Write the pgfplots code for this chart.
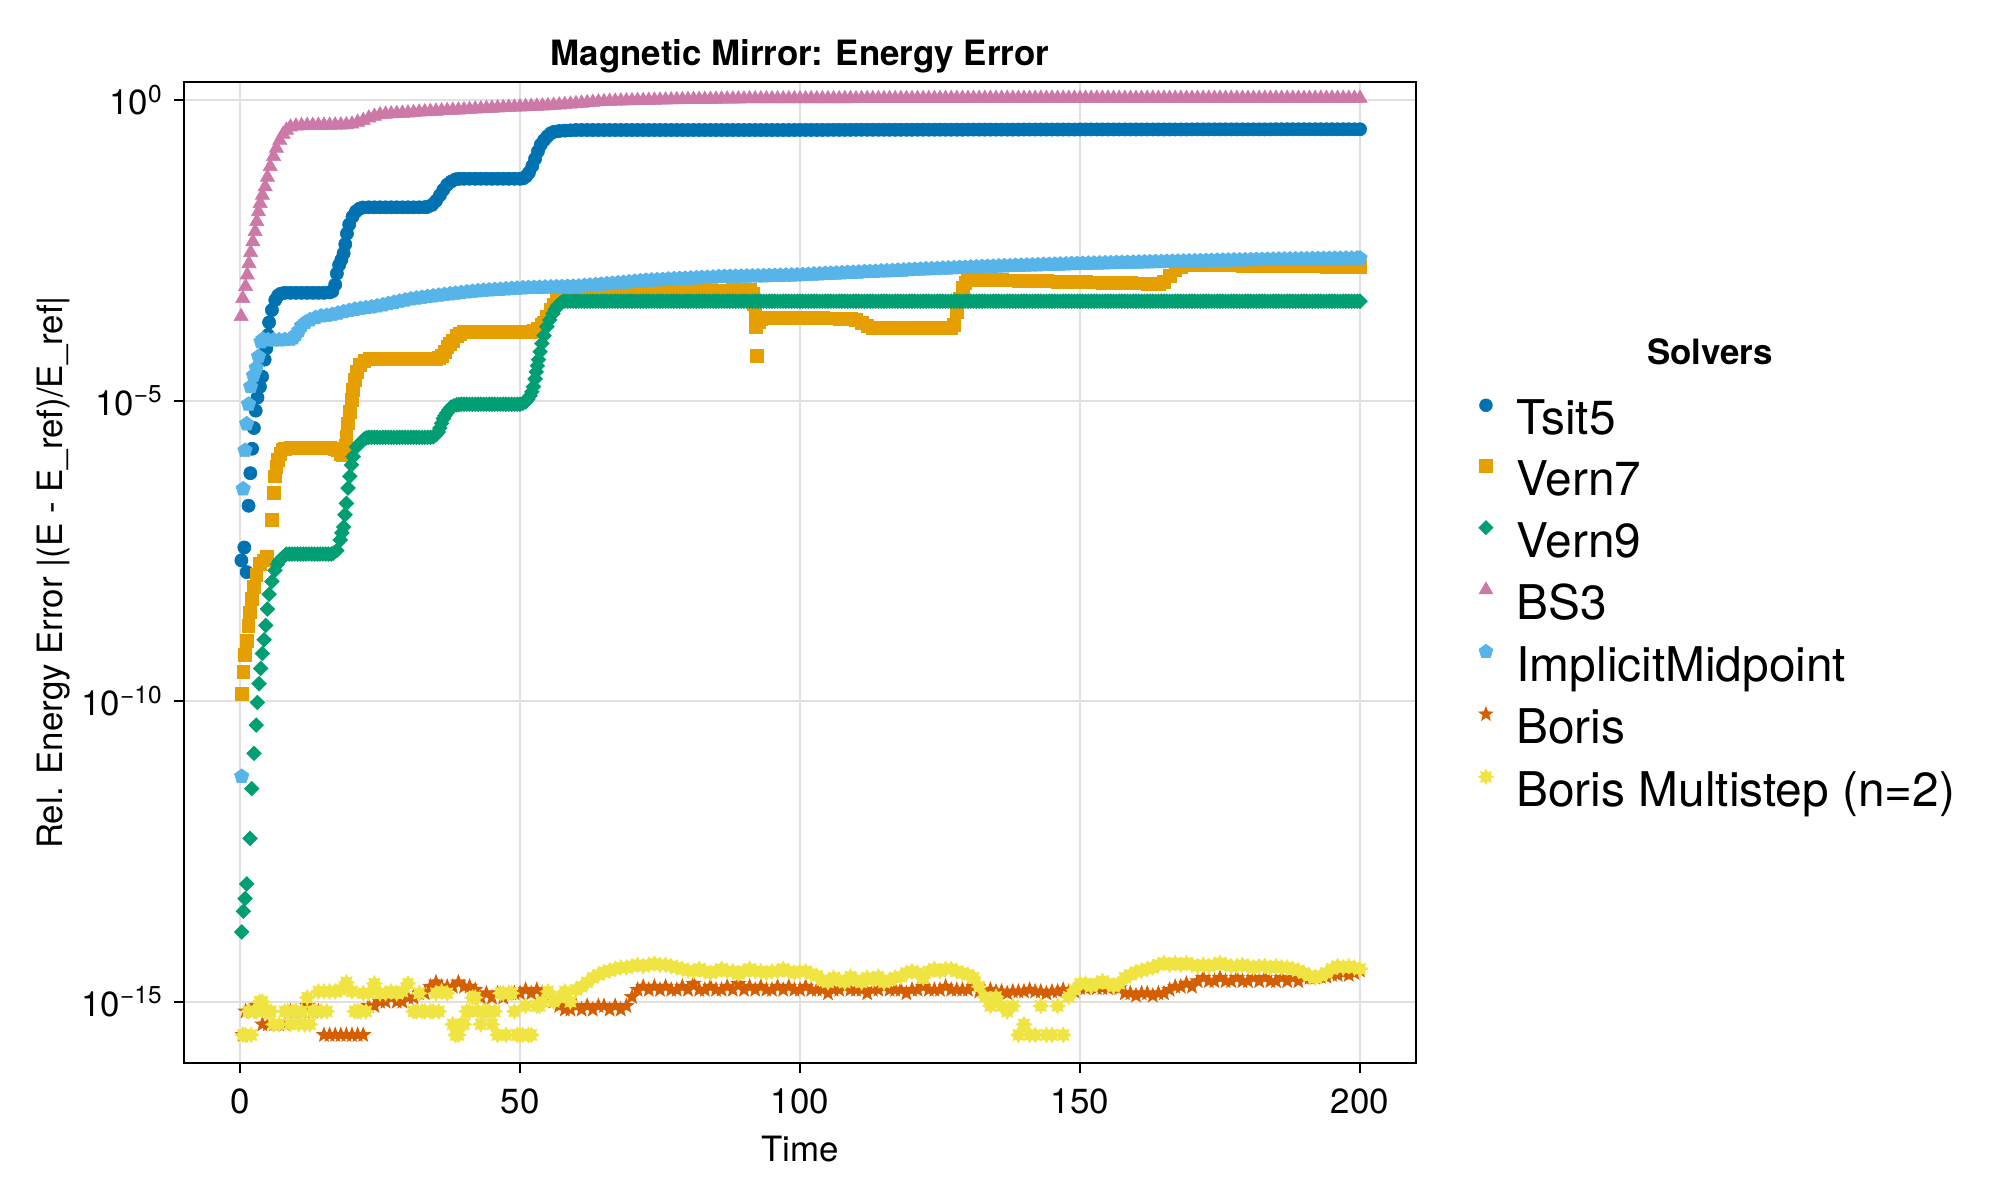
\documentclass[border=0pt]{standalone}
\usepackage{fontspec}
\setmainfont{TeX Gyre Heros}
\usepackage{pgfplots}
\pgfplotsset{compat=1.18}
\usetikzlibrary{plotmarks}

\definecolor{cTsit}{RGB}{0,114,178}
\definecolor{cVernS}{RGB}{230,159,0}
\definecolor{cVernN}{RGB}{0,158,115}
\definecolor{cBS}{RGB}{204,121,167}
\definecolor{cIM}{RGB}{86,180,233}
\definecolor{cBoris}{RGB}{213,94,0}
\definecolor{cBMS}{RGB}{240,228,66}

% Makie-like filled marks
\pgfdeclareplotmark{mdiamond}{%
  \pgfpathmoveto{\pgfqpoint{0pt}{\pgfplotmarksize}}%
  \pgfpathlineto{\pgfqpoint{\pgfplotmarksize}{0pt}}%
  \pgfpathlineto{\pgfqpoint{0pt}{-\pgfplotmarksize}}%
  \pgfpathlineto{\pgfqpoint{-\pgfplotmarksize}{0pt}}%
  \pgfpathclose\pgfusepathqfill}
\pgfdeclareplotmark{mstarv}{%
  \pgfpathmoveto{\pgfqpointpolar{90}{\pgfplotmarksize}}%
  \pgfpathlineto{\pgfpointscale{0.42}{\pgfqpointpolar{126}{\pgfplotmarksize}}}%
  \pgfpathlineto{\pgfqpointpolar{162}{\pgfplotmarksize}}%
  \pgfpathlineto{\pgfpointscale{0.42}{\pgfqpointpolar{198}{\pgfplotmarksize}}}%
  \pgfpathlineto{\pgfqpointpolar{234}{\pgfplotmarksize}}%
  \pgfpathlineto{\pgfpointscale{0.42}{\pgfqpointpolar{270}{\pgfplotmarksize}}}%
  \pgfpathlineto{\pgfqpointpolar{306}{\pgfplotmarksize}}%
  \pgfpathlineto{\pgfpointscale{0.42}{\pgfqpointpolar{342}{\pgfplotmarksize}}}%
  \pgfpathlineto{\pgfqpointpolar{18}{\pgfplotmarksize}}%
  \pgfpathlineto{\pgfpointscale{0.42}{\pgfqpointpolar{54}{\pgfplotmarksize}}}%
  \pgfpathclose\pgfusepathqfill}
\pgfdeclareplotmark{mstarviii}{%
  \pgfpathmoveto{\pgfqpointpolar{90}{\pgfplotmarksize}}%
  \pgfpathlineto{\pgfpointscale{0.62}{\pgfqpointpolar{112.5}{\pgfplotmarksize}}}%
  \pgfpathlineto{\pgfqpointpolar{135}{\pgfplotmarksize}}%
  \pgfpathlineto{\pgfpointscale{0.62}{\pgfqpointpolar{157.5}{\pgfplotmarksize}}}%
  \pgfpathlineto{\pgfqpointpolar{180}{\pgfplotmarksize}}%
  \pgfpathlineto{\pgfpointscale{0.62}{\pgfqpointpolar{202.5}{\pgfplotmarksize}}}%
  \pgfpathlineto{\pgfqpointpolar{225}{\pgfplotmarksize}}%
  \pgfpathlineto{\pgfpointscale{0.62}{\pgfqpointpolar{247.5}{\pgfplotmarksize}}}%
  \pgfpathlineto{\pgfqpointpolar{270}{\pgfplotmarksize}}%
  \pgfpathlineto{\pgfpointscale{0.62}{\pgfqpointpolar{292.5}{\pgfplotmarksize}}}%
  \pgfpathlineto{\pgfqpointpolar{315}{\pgfplotmarksize}}%
  \pgfpathlineto{\pgfpointscale{0.62}{\pgfqpointpolar{337.5}{\pgfplotmarksize}}}%
  \pgfpathlineto{\pgfqpointpolar{0}{\pgfplotmarksize}}%
  \pgfpathlineto{\pgfpointscale{0.62}{\pgfqpointpolar{22.5}{\pgfplotmarksize}}}%
  \pgfpathlineto{\pgfqpointpolar{45}{\pgfplotmarksize}}%
  \pgfpathlineto{\pgfpointscale{0.62}{\pgfqpointpolar{67.5}{\pgfplotmarksize}}}%
  \pgfpathclose\pgfusepathqfill}

\pgfplotsset{
  mk/.style={only marks, line width=0.3bp,
    legend image code/.code={\draw[##1, /tikz/every mark/.append style={scale=0.97}] plot coordinates {(0bp,8.6bp)};}},
}
\newcommand{\lblfont}{\fontsize{17.5}{21}\selectfont}

\begin{document}
\begin{tikzpicture}
\useasboundingbox (-92bp,-68.5bp) rectangle (908bp,531.5bp);
\begin{axis}[
  name=ax, at={(0,0)}, anchor=south west,
  scale only axis, width=616bp, height=490.5bp,
  xmin=-10, xmax=210,
  ymode=log, ymin=9.55e-17, ymax=1.995,
  xtick={0,50,100,150,200},
  ytick={1e-15,1e-10,1e-5,1},
  yticklabels={10\textsuperscript{−15},10\textsuperscript{−10},10\textsuperscript{−5},10\textsuperscript{0}},
  xminorticks=false, yminorticks=false,
  grid=major, major grid style={draw=black!12, line width=1bp},
  axis line style={line width=1bp},
  every tick/.style={black, line width=1bp},
  tick align=outside, major tick length=5bp, tick pos=left,
  tick label style={font=\lblfont},
  /pgf/number format/assume math mode=true,
  xticklabel style={inner sep=0pt, anchor=north, yshift=-7.7bp},
  yticklabel style={inner sep=0pt, anchor=east, xshift=-5.5bp},
  every axis title shift=0pt,
  title={Magnetic Mirror: Energy Error},
  title style={at={(0.5,1)}, anchor=center, yshift=12.8bp, inner sep=0pt, font=\bfseries\lblfont},
  xlabel={Time},
  xlabel style={at={(0.5,0)}, anchor=center, yshift=-43.1bp, inner sep=0pt, font=\lblfont},
  ylabel={Rel. Energy Error |(E - E\_ref)/E\_ref|},
  ylabel style={at={(-0.1063,0.5)}, anchor=center, inner sep=0pt, font=\lblfont},
  legend style={at={(1.050,0.677)}, anchor=north west, draw=none, fill=none,
    inner sep=0pt, outer sep=0pt, row sep=7.3bp, column sep=11.1bp,
    font=\fontsize{24}{29}\selectfont,
    nodes={inner sep=0pt, text height=17.5bp, text depth=5bp}},
  legend cell align=left,
]
% Tsit5
\addplot[mk, color=cTsit, mark=*, mark size=3.3bp] coordinates {
(0.25,2.2e-8)(0.77,3.6e-8)(1.2,1.4e-8)(1.53,1.78e-7)(1.85,6.2e-7)(2.16,1.58e-6)(2.48,3.5e-6)(2.8,6.8e-6)(3.12,1.12e-5)(3.57,1.7e-5)
(3.95,2.5e-5)(4.4,4.8e-5)(4.7,7.4e-5)(5.0,1.23e-4)(5.2,2.0e-4)(5.7,3.2e-4)(6.3,4.7e-4)(6.8,5.6e-4)(7.3,6.0e-4)(8,6.2e-4)
(9,6.2e-4)(10,6.2e-4)(11,6.2e-4)(12,6.2e-4)(13,6.2e-4)(14,6.2e-4)(15,6.2e-4)(16,6.3e-4)(16.5,6.6e-4)(17,8.5e-4)
(17.3,1.3e-3)(17.7,1.8e-3)(18.1,2.2e-3)(18.5,2.8e-3)(18.8,4.0e-3)(19.1,6.0e-3)(19.5,8.5e-3)(20.1,1.15e-2)(20.7,1.4e-2)(21.3,1.55e-2)
(21.9,1.63e-2)(23,1.64e-2)(24,1.64e-2)(25,1.64e-2)(26,1.64e-2)(27,1.64e-2)(28,1.64e-2)(29,1.64e-2)(30,1.64e-2)(31,1.64e-2)
(32,1.64e-2)(33,1.65e-2)(33.5,1.67e-2)(34.3,1.8e-2)(35,2.1e-2)(35.7,2.6e-2)(36.3,3.2e-2)(37,3.9e-2)(37.7,4.4e-2)(38.5,4.8e-2)
(39.2,4.9e-2)(40,4.9e-2)(41,4.9e-2)(42,4.9e-2)(43,4.9e-2)(44,4.9e-2)(45,4.9e-2)(46,4.9e-2)(47,4.9e-2)(48,4.9e-2)
(49,4.9e-2)(50,4.9e-2)(50.6,5.0e-2)(51.1,5.4e-2)(51.6,6.2e-2)(52.2,8.0e-2)(52.7,0.105)(53.2,0.14)(53.7,0.18)(54.3,0.215)
(54.9,0.25)(55.5,0.28)(56.1,0.296)(57,0.305)(58,0.310)(59,0.313)
(60,0.317)(61,0.317)(62,0.317)(63,0.317)(64,0.317)(65,0.317)(66,0.317)(67,0.317)(68,0.317)(69,0.317)
(70,0.317)(71,0.317)(72,0.317)(73,0.317)(74,0.317)(75,0.317)(76,0.317)(77,0.317)(78,0.317)(79,0.317)
(80,0.317)(81,0.317)(82,0.317)(83,0.317)(84,0.317)(85,0.317)(86,0.317)(87,0.317)(88,0.317)(89,0.317)
(90,0.317)(91,0.317)(92,0.317)(93,0.317)(94,0.317)(95,0.317)(96,0.317)(97,0.317)(98,0.317)(99,0.317)
(100,0.318)(101,0.318)(102,0.318)(103,0.318)(104,0.318)(105,0.319)(106,0.319)(107,0.319)(108,0.319)(109,0.319)
(110,0.320)(111,0.320)(112,0.320)(113,0.320)(114,0.320)(115,0.320)(116,0.320)(117,0.320)(118,0.320)(119,0.320)
(120,0.320)(121,0.321)(122,0.321)(123,0.321)(124,0.321)(125,0.321)(126,0.321)(127,0.321)(128,0.321)(129,0.321)
(130,0.322)(131,0.322)(132,0.322)(133,0.322)(134,0.322)(135,0.322)(136,0.322)(137,0.322)(138,0.322)(139,0.322)
(140,0.323)(141,0.323)(142,0.323)(143,0.323)(144,0.323)(145,0.323)(146,0.323)(147,0.323)(148,0.323)(149,0.323)
(150,0.324)(151,0.324)(152,0.324)(153,0.324)(154,0.324)(155,0.324)(156,0.324)(157,0.324)(158,0.324)(159,0.324)
(160,0.324)(161,0.324)(162,0.324)(163,0.324)(164,0.324)(165,0.324)(166,0.324)(167,0.324)(168,0.324)(169,0.324)
(170,0.325)(171,0.325)(172,0.325)(173,0.325)(174,0.325)(175,0.325)(176,0.325)(177,0.325)(178,0.325)(179,0.325)
(180,0.325)(181,0.325)(182,0.325)(183,0.325)(184,0.325)(185,0.326)(186,0.326)(187,0.326)(188,0.326)(189,0.326)
(190,0.326)(191,0.326)(192,0.326)(193,0.326)(194,0.326)(195,0.326)(196,0.326)(197,0.326)(198,0.326)(199,0.326)
(200,0.326)
};
% Vern7
\addplot[mk, color=cVernS, mark=square*, mark size=3.2bp] coordinates {
(0.3,1.32e-10)(0.6,3.1e-10)(0.9,5.9e-10)(1.2,1.02e-9)(1.5,1.78e-9)(1.8,3.0e-9)(2.1,5.0e-9)(2.4,7.9e-9)(2.9,1.26e-8)(3.6,1.95e-8)
(4.2,2.2e-8)(4.8,2.5e-8)(5.7,1.05e-7)(6.0,2.9e-7)(6.25,5.5e-7)(6.5,7.9e-7)(6.8,1.02e-6)(7.2,1.3e-6)(7.7,1.55e-6)(8,1.6e-6)
(9,1.62e-6)(10,1.62e-6)(11,1.62e-6)(12,1.62e-6)(13,1.62e-6)(14,1.62e-6)(15,1.62e-6)(16,1.62e-6)(17,1.6e-6)(17.5,1.5e-6)
(18,1.3e-6)(18.4,1.26e-6)(18.8,1.8e-6)(19.0,2.5e-6)(19.3,4.2e-6)(19.6,6.5e-6)(19.9,1.02e-5)(20.2,1.5e-5)(20.5,2.2e-5)(20.9,3.0e-5)
(21.4,3.9e-5)(22.2,4.6e-5)(23.2,4.9e-5)(24,4.9e-5)(25,4.9e-5)(26,4.9e-5)(27,4.9e-5)(28,4.9e-5)(29,4.9e-5)(30,4.9e-5)
(31,4.9e-5)(32,4.9e-5)(33,4.9e-5)(34,4.9e-5)(35,4.9e-5)(35.5,5.1e-5)(36,5.6e-5)(36.5,6.5e-5)(37,7.8e-5)(37.5,8.9e-5)
(38,1.0e-4)(38.7,1.2e-4)(39.3,1.3e-4)(40,1.38e-4)(41,1.38e-4)(42,1.38e-4)(43,1.38e-4)(44,1.38e-4)(45,1.38e-4)(46,1.38e-4)
(47,1.38e-4)(48,1.38e-4)(49,1.38e-4)(50,1.38e-4)(51,1.38e-4)(52,1.38e-4)(52.5,1.45e-4)(53.2,1.6e-4)(53.8,1.8e-4)(54.2,1.95e-4)
(54.8,2.5e-4)(55.4,3.2e-4)(56,4.0e-4)(56.5,4.7e-4)(57.3,5.4e-4)(58.3,5.75e-4)(59,5.9e-4)(60,6.1e-4)(61,6.2e-4)(62,6.3e-4)
(63,6.4e-4)(64,6.4e-4)(65,6.4e-4)(66,6.45e-4)(67,6.45e-4)(68,6.45e-4)(69,6.5e-4)(70,6.5e-4)(71,6.5e-4)(72,6.5e-4)
(73,6.55e-4)(74,6.55e-4)(75,6.55e-4)(76,6.6e-4)(77,6.6e-4)(78,6.6e-4)(79,6.6e-4)(80,6.6e-4)(81,6.7e-4)(82,6.7e-4)
(83,6.7e-4)(84,6.75e-4)(85,6.8e-4)(86,6.8e-4)(87,6.85e-4)(88,6.9e-4)(89,6.9e-4)(90,6.9e-4)(91,6.9e-4)(91.5,6.0e-4)
(91.8,4.0e-4)(92.0,2.8e-4)(92.1,1.7e-4)(92.3,5.5e-5)(92.6,2.0e-4)(93.0,2.3e-4)(93.5,2.4e-4)(94,2.4e-4)(95,2.4e-4)(96,2.4e-4)
(97,2.4e-4)(98,2.4e-4)(99,2.38e-4)(100,2.38e-4)(101,2.36e-4)(102,2.36e-4)(103,2.35e-4)(104,2.35e-4)(105,2.34e-4)(106,2.33e-4)
(107,2.32e-4)(108,2.31e-4)(109,2.3e-4)(110,2.2e-4)(111,1.95e-4)(112,1.75e-4)(113,1.64e-4)(114,1.62e-4)(115,1.62e-4)(116,1.62e-4)
(117,1.62e-4)(118,1.62e-4)(119,1.62e-4)(120,1.62e-4)(121,1.62e-4)(122,1.62e-4)(123,1.62e-4)(124,1.62e-4)(125,1.62e-4)(126,1.62e-4)
(127,1.64e-4)(127.5,1.8e-4)(128,3.0e-4)(128.5,5.0e-4)(129,7.5e-4)(129.5,9.2e-4)(130,1.0e-3)(131,1.02e-3)(132,1.02e-3)(133,1.02e-3)
(134,1.01e-3)(135,1.01e-3)(136,1.01e-3)(137,1.0e-3)(138,1.0e-3)(139,9.95e-4)(140,9.9e-4)(141,9.85e-4)(142,9.8e-4)(143,9.75e-4)
(144,9.7e-4)(145,9.65e-4)(146,9.6e-4)(147,9.55e-4)(148,9.5e-4)(149,9.45e-4)(150,9.4e-4)(151,9.35e-4)(152,9.3e-4)(153,9.25e-4)
(154,9.2e-4)(155,9.15e-4)(156,9.1e-4)(157,9.05e-4)(158,9.0e-4)(159,9.0e-4)(160,8.95e-4)(161,8.95e-4)(162,8.9e-4)(163,8.9e-4)
(164,8.9e-4)(165,9.5e-4)(166,1.2e-3)(167,1.5e-3)(168,1.7e-3)(169,1.8e-3)(170,1.8e-3)(171,1.8e-3)(172,1.8e-3)(173,1.79e-3)
(174,1.79e-3)(175,1.79e-3)(176,1.78e-3)(177,1.78e-3)(178,1.78e-3)(179,1.77e-3)(180,1.77e-3)(181,1.77e-3)(182,1.76e-3)(183,1.76e-3)
(184,1.75e-3)(185,1.75e-3)(186,1.74e-3)(187,1.74e-3)(188,1.73e-3)(189,1.73e-3)(190,1.72e-3)(191,1.72e-3)(192,1.71e-3)(193,1.71e-3)
(194,1.7e-3)(195,1.7e-3)(196,1.7e-3)(197,1.7e-3)(198,1.7e-3)(199,1.7e-3)(200,1.7e-3)
};
% Vern9
\addplot[mk, color=cVernN, mark=mdiamond, mark size=3.9bp] coordinates {
(0.3,1.45e-14)(0.6,3.2e-14)(0.9,5.2e-14)(1.2,9.1e-14)(1.8,5.2e-13)(2.1,3.5e-12)(2.5,1.35e-11)(2.9,4.0e-11)(3.1,9.5e-11)(3.4,1.95e-10)
(3.7,3.5e-10)(4.0,6.2e-10)(4.3,1.05e-9)(4.6,1.82e-9)(4.9,3.4e-9)(5.2,6.0e-9)(5.7,9.8e-9)(6.25,1.5e-8)(6.7,1.9e-8)(7.1,2.2e-8)
(7.7,2.5e-8)(8.3,2.8e-8)(8.8,2.8e-8)(9.3,2.8e-8)(9.8,2.8e-8)(10.3,2.8e-8)(10.8,2.8e-8)(11.3,2.8e-8)(11.8,2.8e-8)(12.3,2.8e-8)
(12.8,2.8e-8)(13.3,2.8e-8)(13.8,2.8e-8)(14.3,2.8e-8)(14.8,2.8e-8)(15.3,2.8e-8)(15.8,2.8e-8)(16.3,2.8e-8)
(16.7,2.9e-8)(17.3,3.2e-8)(17.9,4.8e-8)(18.2,6.3e-8)(18.5,7.9e-8)(18.75,1.26e-7)(19,1.95e-7)(19.3,3.5e-7)(19.6,5.5e-7)(19.9,8.5e-7)
(20.2,1.17e-6)(20.8,1.7e-6)(21.4,1.95e-6)(22.2,2.3e-6)(22.6,2.4e-6)(23,2.45e-6)(23.5,2.45e-6)(24,2.45e-6)(24.5,2.45e-6)(25,2.45e-6)
(25.5,2.45e-6)(26,2.45e-6)(26.5,2.45e-6)(27,2.45e-6)(27.5,2.45e-6)(28,2.45e-6)(28.5,2.45e-6)(29,2.45e-6)(29.5,2.45e-6)(30,2.45e-6)
(30.5,2.45e-6)(31,2.45e-6)(31.5,2.45e-6)(32,2.45e-6)(32.5,2.45e-6)(33,2.45e-6)(33.5,2.45e-6)(34,2.45e-6)(34.5,2.5e-6)
(35,2.7e-6)(35.4,3.0e-6)(35.7,3.5e-6)(36,4.2e-6)(36.3,5.0e-6)(36.6,5.6e-6)(36.9,6.2e-6)(37.3,7.0e-6)(37.7,7.8e-6)(38.2,8.2e-6)
(38.7,8.5e-6)(39.1,8.6e-6)(39.5,8.7e-6)(40,8.7e-6)(40.5,8.7e-6)(41,8.7e-6)(41.5,8.7e-6)(42,8.7e-6)(42.5,8.7e-6)(43,8.7e-6)
(43.5,8.7e-6)(44,8.7e-6)(44.5,8.7e-6)(45,8.7e-6)(45.5,8.7e-6)(46,8.7e-6)(46.5,8.7e-6)(47,8.7e-6)(47.5,8.7e-6)(48,8.7e-6)
(48.5,8.7e-6)(49,8.7e-6)(49.5,8.7e-6)(50,8.7e-6)(50.5,9.0e-6)(51,9.5e-6)(51.4,1.05e-5)(51.8,1.2e-5)(52.1,1.4e-5)(52.4,1.7e-5)
(52.7,2.3e-5)(52.9,3.0e-5)(53.1,3.8e-5)(53.3,4.8e-5)(53.6,6.5e-5)(53.9,8.9e-5)(54.3,1.2e-4)(54.8,1.7e-4)(55.3,2.2e-4)(55.9,2.8e-4)
(56.3,3.3e-4)(56.7,3.8e-4)(57.2,4.2e-4)(57.7,4.5e-4)
(58,4.5e-4)(58.5,4.5e-4)(59,4.5e-4)(59.5,4.5e-4)(60,4.5e-4)(60.5,4.5e-4)(61,4.5e-4)(61.5,4.5e-4)(62,4.5e-4)(62.5,4.5e-4)
(63,4.5e-4)(63.5,4.5e-4)(64,4.5e-4)(64.5,4.5e-4)(65,4.5e-4)(65.5,4.5e-4)(66,4.5e-4)(66.5,4.5e-4)(67,4.5e-4)(67.5,4.5e-4)
(68,4.5e-4)(68.5,4.5e-4)(69,4.5e-4)(69.5,4.5e-4)(70,4.5e-4)(70.5,4.5e-4)(71,4.5e-4)(71.5,4.5e-4)(72,4.5e-4)(72.5,4.5e-4)
(73,4.5e-4)(73.5,4.5e-4)(74,4.5e-4)(74.5,4.5e-4)(75,4.5e-4)(75.5,4.5e-4)(76,4.5e-4)(76.5,4.5e-4)(77,4.5e-4)(77.5,4.5e-4)
(78,4.5e-4)(78.5,4.5e-4)(79,4.5e-4)(79.5,4.5e-4)(80,4.5e-4)(80.5,4.5e-4)(81,4.5e-4)(81.5,4.5e-4)(82,4.5e-4)(82.5,4.5e-4)
(83,4.5e-4)(83.5,4.5e-4)(84,4.5e-4)(84.5,4.5e-4)(85,4.5e-4)(85.5,4.5e-4)(86,4.5e-4)(86.5,4.5e-4)(87,4.5e-4)(87.5,4.5e-4)
(88,4.5e-4)(88.5,4.5e-4)(89,4.5e-4)(89.5,4.5e-4)(90,4.5e-4)(90.5,4.5e-4)(91,4.5e-4)(91.5,4.5e-4)(92,4.5e-4)(92.5,4.5e-4)
(93,4.5e-4)(93.5,4.5e-4)(94,4.5e-4)(94.5,4.5e-4)(95,4.5e-4)(95.5,4.5e-4)(96,4.5e-4)(96.5,4.5e-4)(97,4.5e-4)(97.5,4.5e-4)
(98,4.5e-4)(98.5,4.5e-4)(99,4.5e-4)(99.5,4.5e-4)(100,4.5e-4)(100.5,4.5e-4)(101,4.5e-4)(101.5,4.5e-4)(102,4.5e-4)(102.5,4.5e-4)
(103,4.5e-4)(103.5,4.5e-4)(104,4.5e-4)(104.5,4.5e-4)(105,4.5e-4)(105.5,4.5e-4)(106,4.5e-4)(106.5,4.5e-4)(107,4.5e-4)(107.5,4.5e-4)
(108,4.5e-4)(108.5,4.5e-4)(109,4.5e-4)(109.5,4.5e-4)(110,4.5e-4)(110.5,4.5e-4)(111,4.5e-4)(111.5,4.5e-4)(112,4.5e-4)(112.5,4.5e-4)
(113,4.5e-4)(113.5,4.5e-4)(114,4.5e-4)(114.5,4.5e-4)(115,4.5e-4)(115.5,4.5e-4)(116,4.5e-4)(116.5,4.5e-4)(117,4.5e-4)(117.5,4.5e-4)
(118,4.5e-4)(118.5,4.5e-4)(119,4.5e-4)(119.5,4.5e-4)(120,4.5e-4)(120.5,4.5e-4)(121,4.5e-4)(121.5,4.5e-4)(122,4.5e-4)(122.5,4.5e-4)
(123,4.5e-4)(123.5,4.5e-4)(124,4.5e-4)(124.5,4.5e-4)(125,4.5e-4)(125.5,4.5e-4)(126,4.5e-4)(126.5,4.5e-4)(127,4.5e-4)(127.5,4.5e-4)
(128,4.5e-4)(128.5,4.5e-4)(129,4.5e-4)(129.5,4.5e-4)(130,4.5e-4)(130.5,4.5e-4)(131,4.5e-4)(131.5,4.5e-4)(132,4.5e-4)(132.5,4.5e-4)
(133,4.5e-4)(133.5,4.5e-4)(134,4.5e-4)(134.5,4.5e-4)(135,4.5e-4)(135.5,4.5e-4)(136,4.5e-4)(136.5,4.5e-4)(137,4.5e-4)(137.5,4.5e-4)
(138,4.5e-4)(138.5,4.5e-4)(139,4.5e-4)(139.5,4.5e-4)(140,4.5e-4)(140.5,4.5e-4)(141,4.5e-4)(141.5,4.5e-4)(142,4.5e-4)(142.5,4.5e-4)
(143,4.5e-4)(143.5,4.5e-4)(144,4.5e-4)(144.5,4.5e-4)(145,4.5e-4)(145.5,4.5e-4)(146,4.5e-4)(146.5,4.5e-4)(147,4.5e-4)(147.5,4.5e-4)
(148,4.5e-4)(148.5,4.5e-4)(149,4.5e-4)(149.5,4.5e-4)(150,4.5e-4)(150.5,4.5e-4)(151,4.5e-4)(151.5,4.5e-4)(152,4.5e-4)(152.5,4.5e-4)
(153,4.5e-4)(153.5,4.5e-4)(154,4.5e-4)(154.5,4.5e-4)(155,4.5e-4)(155.5,4.5e-4)(156,4.5e-4)(156.5,4.5e-4)(157,4.5e-4)(157.5,4.5e-4)
(158,4.5e-4)(158.5,4.5e-4)(159,4.5e-4)(159.5,4.5e-4)(160,4.5e-4)(160.5,4.5e-4)(161,4.5e-4)(161.5,4.5e-4)(162,4.5e-4)(162.5,4.5e-4)
(163,4.5e-4)(163.5,4.5e-4)(164,4.5e-4)(164.5,4.5e-4)(165,4.5e-4)(165.5,4.5e-4)(166,4.5e-4)(166.5,4.5e-4)(167,4.5e-4)(167.5,4.5e-4)
(168,4.5e-4)(168.5,4.5e-4)(169,4.5e-4)(169.5,4.5e-4)(170,4.5e-4)(170.5,4.5e-4)(171,4.5e-4)(171.5,4.5e-4)(172,4.5e-4)(172.5,4.5e-4)
(173,4.5e-4)(173.5,4.5e-4)(174,4.5e-4)(174.5,4.5e-4)(175,4.5e-4)(175.5,4.5e-4)(176,4.5e-4)(176.5,4.5e-4)(177,4.5e-4)(177.5,4.5e-4)
(178,4.5e-4)(178.5,4.5e-4)(179,4.5e-4)(179.5,4.5e-4)(180,4.5e-4)(180.5,4.5e-4)(181,4.5e-4)(181.5,4.5e-4)(182,4.5e-4)(182.5,4.5e-4)
(183,4.5e-4)(183.5,4.5e-4)(184,4.5e-4)(184.5,4.5e-4)(185,4.5e-4)(185.5,4.5e-4)(186,4.5e-4)(186.5,4.5e-4)(187,4.5e-4)(187.5,4.5e-4)
(188,4.5e-4)(188.5,4.5e-4)(189,4.5e-4)(189.5,4.5e-4)(190,4.5e-4)(190.5,4.5e-4)(191,4.5e-4)(191.5,4.5e-4)(192,4.5e-4)(192.5,4.5e-4)
(193,4.5e-4)(193.5,4.5e-4)(194,4.5e-4)(194.5,4.5e-4)(195,4.5e-4)(195.5,4.5e-4)(196,4.5e-4)(196.5,4.5e-4)(197,4.5e-4)(197.5,4.5e-4)
(198,4.5e-4)(198.5,4.5e-4)(199,4.5e-4)(199.5,4.5e-4)(200,4.5e-4)
};
% BS3
\addplot[mk, color=cBS, mark=triangle*, mark size=4.1bp] coordinates {
(0.2,2.5e-4)(0.5,5.0e-4)(1.0,7.9e-4)(1.3,1.23e-3)(1.6,1.9e-3)(1.9,2.9e-3)(2.3,4.4e-3)(2.7,6.5e-3)(3.0,9.5e-3)(3.3,1.38e-2)
(3.6,1.9e-2)(4.0,2.6e-2)(4.5,3.6e-2)(4.9,5.2e-2)(5.4,7.8e-2)(6.0,0.115)(6.5,0.158)(7.1,0.214)(7.7,0.27)(8.3,0.316)
(9,0.355)(10,0.370)(11,0.375)(12,0.378)(13,0.380)(14,0.380)(15,0.381)(16,0.382)(17,0.383)(18,0.385)
(19,0.388)(20,0.398)(21,0.427)(22,0.457)(23,0.501)(24,0.537)(25,0.569)(26,0.582)(27,0.589)(28,0.596)
(29,0.603)(30,0.610)(31,0.620)(32,0.631)(33,0.638)(34,0.646)(35,0.653)(36,0.661)(37,0.668)(38,0.676)
(39,0.684)(40,0.692)(41,0.700)(42,0.708)(43,0.716)(44,0.724)(45,0.732)(46,0.741)(47,0.750)(48,0.759)
(49,0.763)(50,0.767)(51,0.776)(52,0.785)(53,0.791)(54,0.798)(55,0.804)(56,0.816)(57,0.828)(58,0.841)
(59,0.856)(60,0.871)(61,0.886)(62,0.902)(63,0.918)(64,0.933)(65,0.944)(66,0.955)(67,0.960)(68,0.966)
(69,0.972)(70,0.977)(71,0.980)(72,0.985)(73,0.990)(74,0.995)(75,1.000)(76,1.005)(77,1.010)(78,1.015)
(79,1.020)(80,1.023)(81,1.025)(82,1.028)(83,1.030)(84,1.033)(85,1.035)(86,1.038)(87,1.040)(88,1.042)
(89,1.045)(90,1.047)(91,1.048)(92,1.049)(93,1.050)(94,1.050)(95,1.050)(96,1.050)(97,1.051)(98,1.051)
(99,1.051)(100,1.052)(101,1.052)(102,1.053)(103,1.053)(104,1.054)(105,1.054)(106,1.055)(107,1.055)(108,1.056)
(109,1.056)(110,1.057)(111,1.057)(112,1.058)(113,1.058)(114,1.059)(115,1.059)(116,1.060)(117,1.060)(118,1.061)
(119,1.061)(120,1.062)(121,1.062)(122,1.063)(123,1.063)(124,1.064)(125,1.064)(126,1.065)(127,1.065)(128,1.066)
(129,1.066)(130,1.067)(131,1.067)(132,1.068)(133,1.068)(134,1.069)(135,1.069)(136,1.070)(137,1.070)(138,1.070)
(139,1.071)(140,1.071)(141,1.071)(142,1.071)(143,1.072)(144,1.072)(145,1.072)(146,1.072)(147,1.072)(148,1.072)
(149,1.072)(150,1.072)(151,1.072)(152,1.072)(153,1.072)(154,1.072)(155,1.072)(156,1.072)(157,1.072)(158,1.072)
(159,1.072)(160,1.072)(161,1.072)(162,1.072)(163,1.072)(164,1.072)(165,1.072)(166,1.072)(167,1.072)(168,1.072)
(169,1.072)(170,1.072)(171,1.072)(172,1.072)(173,1.072)(174,1.072)(175,1.072)(176,1.072)(177,1.072)(178,1.072)
(179,1.072)(180,1.072)(181,1.072)(182,1.072)(183,1.072)(184,1.072)(185,1.072)(186,1.072)(187,1.072)(188,1.072)
(189,1.072)(190,1.072)(191,1.072)(192,1.072)(193,1.072)(194,1.072)(195,1.072)(196,1.072)(197,1.072)(198,1.072)
(199,1.072)(200,1.072)
};
% ImplicitMidpoint
\addplot[mk, color=cIM, mark=pentagon*, mark size=3.8bp] coordinates {
(0.3,5.6e-12)(0.57,3.4e-7)(0.9,1.48e-6)(1.2,4.1e-6)(1.53,8.7e-6)(1.9,1.7e-5)(2.4,2.6e-5)(2.9,3.5e-5)(3.3,5.4e-5)(3.75,9.5e-5)
(4.1,1.05e-4)(5,1.02e-4)(6,1.02e-4)(7,1.02e-4)(8,1.03e-4)(9,1.05e-4)(9.5,1.1e-4)(10,1.25e-4)(10.5,1.45e-4)(11,1.75e-4)
(11.7,2.0e-4)(12.5,2.2e-4)(13.5,2.4e-4)(14.5,2.55e-4)(15.5,2.6e-4)(16.5,2.7e-4)(17.5,2.85e-4)(18.5,3.0e-4)(19.5,3.15e-4)(20.5,3.3e-4)
(21.5,3.4e-4)(22.5,3.5e-4)(23.5,3.6e-4)(24.5,3.75e-4)(25.5,3.9e-4)(26.5,4.1e-4)(27.5,4.3e-4)(28.5,4.5e-4)(29.5,4.7e-4)(30.5,4.9e-4)
(31.5,5.05e-4)(32.5,5.2e-4)(33.5,5.35e-4)(34.5,5.5e-4)(35.5,5.65e-4)(36.5,5.8e-4)(37.5,5.95e-4)(38.5,6.1e-4)(39.5,6.25e-4)(40.5,6.4e-4)
(41.5,6.55e-4)(42.5,6.7e-4)(43.5,6.8e-4)(44.5,6.9e-4)(45.5,7.0e-4)(46.5,7.1e-4)(47.5,7.2e-4)(48.5,7.3e-4)(49.5,7.4e-4)(50.5,7.5e-4)
(51.5,7.55e-4)(52.5,7.6e-4)(53.5,7.65e-4)(54.5,7.7e-4)(55.5,7.75e-4)(56.5,7.8e-4)(57.5,7.85e-4)(58.5,7.9e-4)(59.5,7.95e-4)(60.5,8.0e-4)
(61.5,8.15e-4)(62.5,8.3e-4)(63.5,8.45e-4)(64.5,8.6e-4)(65.5,8.75e-4)(66.5,8.9e-4)(67.5,9.05e-4)(68.5,9.2e-4)(69.5,9.4e-4)(70.5,9.6e-4)
(71.5,9.8e-4)(72.5,1.0e-3)(73.5,1.01e-3)(74.5,1.02e-3)(75.5,1.03e-3)(76.5,1.05e-3)(77.5,1.06e-3)(78.5,1.07e-3)(79.5,1.08e-3)(80.5,1.09e-3)
(81.5,1.10e-3)(82.5,1.11e-3)(83.5,1.12e-3)(84.5,1.13e-3)(85.5,1.15e-3)(86.5,1.155e-3)(87.5,1.16e-3)(88.5,1.165e-3)(89.5,1.17e-3)(90.5,1.175e-3)
(91.5,1.18e-3)(92.5,1.185e-3)(93.5,1.19e-3)(94.5,1.20e-3)(95.5,1.205e-3)(96.5,1.21e-3)(97.5,1.22e-3)(98.5,1.225e-3)(99.5,1.23e-3)(100.5,1.24e-3)
(101.5,1.25e-3)(102.5,1.27e-3)(103.5,1.28e-3)(104.5,1.30e-3)(105.5,1.31e-3)(106.5,1.32e-3)(107.5,1.33e-3)(108.5,1.35e-3)(109.5,1.36e-3)(110.5,1.37e-3)
(111.5,1.39e-3)(112.5,1.40e-3)(113.5,1.41e-3)(114.5,1.43e-3)(115.5,1.44e-3)(116.5,1.45e-3)(117.5,1.47e-3)(118.5,1.48e-3)(119.5,1.50e-3)(120.5,1.52e-3)
(121.5,1.53e-3)(122.5,1.55e-3)(123.5,1.56e-3)(124.5,1.57e-3)(125.5,1.59e-3)(126.5,1.60e-3)(127.5,1.62e-3)(128.5,1.63e-3)(129.5,1.64e-3)(130.5,1.66e-3)
(131.5,1.67e-3)(132.5,1.69e-3)(133.5,1.70e-3)(134.5,1.71e-3)(135.5,1.73e-3)(136.5,1.74e-3)(137.5,1.75e-3)(138.5,1.77e-3)(139.5,1.78e-3)(140.5,1.79e-3)
(141.5,1.80e-3)(142.5,1.81e-3)(143.5,1.83e-3)(144.5,1.84e-3)(145.5,1.85e-3)(146.5,1.86e-3)(147.5,1.87e-3)(148.5,1.89e-3)(149.5,1.90e-3)(150.5,1.91e-3)
(151.5,1.92e-3)(152.5,1.93e-3)(153.5,1.94e-3)(154.5,1.95e-3)(155.5,1.96e-3)(156.5,1.97e-3)(157.5,1.98e-3)(158.5,1.99e-3)(159.5,2.00e-3)(160.5,2.01e-3)
(161.5,2.02e-3)(162.5,2.03e-3)(163.5,2.04e-3)(164.5,2.05e-3)(165.5,2.06e-3)(166.5,2.07e-3)(167.5,2.08e-3)(168.5,2.09e-3)(169.5,2.10e-3)(170.5,2.11e-3)
(171.5,2.12e-3)(172.5,2.13e-3)(173.5,2.14e-3)(174.5,2.15e-3)(175.5,2.16e-3)(176.5,2.17e-3)(177.5,2.18e-3)(178.5,2.18e-3)(179.5,2.19e-3)(180.5,2.20e-3)
(181.5,2.21e-3)(182.5,2.22e-3)(183.5,2.23e-3)(184.5,2.24e-3)(185.5,2.25e-3)(186.5,2.26e-3)(187.5,2.26e-3)(188.5,2.27e-3)(189.5,2.28e-3)(190.5,2.28e-3)
(191.5,2.29e-3)(192.5,2.30e-3)(193.5,2.30e-3)(194.5,2.31e-3)(195.5,2.32e-3)(196.5,2.32e-3)(197.5,2.33e-3)(198.5,2.33e-3)(199.5,2.34e-3)(200,2.34e-3)
};
% Boris
\addplot[mk, color=cBoris, mark=mstarv, mark size=4.3bp] coordinates {
(0.5,2.8e-16)(1,6.9e-16)(2,6.9e-16)(3,8.5e-16)(4,4.2e-16)(5,4.2e-16)(6,4.2e-16)(7,4.2e-16)(8,4.2e-16)(9,6.9e-16)
(10,6.9e-16)(11,6.9e-16)(12,8.5e-16)(13,6.9e-16)(14,6.9e-16)(15,2.8e-16)(16,2.8e-16)(17,2.8e-16)(18,2.8e-16)(19,2.8e-16)
(20,2.8e-16)(21,2.8e-16)(22,2.8e-16)(23,8.5e-16)(24,8.5e-16)(25,1.0e-15)(26,1.0e-15)(27,1.17e-15)(28,1.0e-15)(29,1.0e-15)
(30,1.17e-15)(31,1.17e-15)(32,1.38e-15)(33,1.38e-15)(34,1.78e-15)(35,2.1e-15)(36,1.78e-15)(37,1.78e-15)(38,1.78e-15)(39,2.1e-15)
(40,1.78e-15)(41,1.78e-15)(42,1.58e-15)(43,1.17e-15)(44,1.38e-15)(45,1.17e-15)(46,1.38e-15)(47,1.17e-15)(48,1.38e-15)(49,1.38e-15)
(50,1.38e-15)(51,1.58e-15)(52,1.38e-15)(53,1.58e-15)(54,1.38e-15)(55,1.17e-15)(56,1.0e-15)(57,8.5e-16)(58,7.4e-16)(59,7.4e-16)
(60,8.5e-16)(61,7.4e-16)(62,8.5e-16)(63,7.4e-16)(64,8.5e-16)(65,8.5e-16)(66,7.4e-16)(67,8.5e-16)(68,7.4e-16)(69,8.5e-16)
(70,1.2e-15)(71,1.58e-15)(72,1.78e-15)(73,1.58e-15)(74,1.78e-15)(75,1.58e-15)(76,1.78e-15)(77,1.58e-15)(78,1.58e-15)(79,1.78e-15)
(80,1.58e-15)(81,2.0e-15)(82,1.58e-15)(83,1.58e-15)(84,1.78e-15)(85,1.58e-15)(86,1.58e-15)(87,1.78e-15)(88,1.58e-15)(89,2.0e-15)
(90,1.58e-15)(91,1.78e-15)(92,1.58e-15)(93,1.78e-15)(94,1.58e-15)(95,1.58e-15)(96,1.78e-15)(97,1.58e-15)(98,1.78e-15)(99,1.58e-15)
(100,1.58e-15)(101,1.78e-15)(102,1.58e-15)(103,1.58e-15)(104,1.58e-15)(105,1.38e-15)(106,1.58e-15)(107,1.58e-15)(108,1.78e-15)(109,1.58e-15)
(110,1.58e-15)(111,1.58e-15)(112,1.38e-15)(113,1.58e-15)(114,1.58e-15)(115,1.78e-15)(116,1.58e-15)(117,1.58e-15)(118,1.58e-15)(119,1.38e-15)
(120,1.58e-15)(121,1.58e-15)(122,1.78e-15)(123,1.58e-15)(124,1.58e-15)(125,1.58e-15)(126,1.78e-15)(127,1.58e-15)(128,1.58e-15)(129,1.58e-15)
(130,1.58e-15)(131,1.78e-15)(132,1.48e-15)(133,1.48e-15)(134,1.58e-15)(135,1.48e-15)(136,1.48e-15)(137,1.38e-15)(138,1.48e-15)(139,1.48e-15)
(140,1.48e-15)(141,1.58e-15)(142,1.48e-15)(143,1.48e-15)(144,1.38e-15)(145,1.48e-15)(146,1.48e-15)(147,1.58e-15)(148,1.48e-15)(149,1.48e-15)
(150,1.68e-15)(151,1.68e-15)(152,1.78e-15)(153,1.68e-15)(154,1.68e-15)(155,1.68e-15)(156,1.78e-15)(157,1.68e-15)(158,1.38e-15)(159,1.38e-15)
(160,1.26e-15)(161,1.38e-15)(162,1.38e-15)(163,1.26e-15)(164,1.38e-15)(165,1.38e-15)(166,1.58e-15)(167,1.78e-15)(168,1.78e-15)(169,2.0e-15)
(170,1.78e-15)(171,2.2e-15)(172,2.5e-15)(173,2.2e-15)(174,2.2e-15)(175,2.5e-15)(176,2.2e-15)(177,2.2e-15)(178,2.5e-15)(179,2.2e-15)
(180,2.2e-15)(181,2.5e-15)(182,2.2e-15)(183,2.5e-15)(184,2.2e-15)(185,2.2e-15)(186,2.5e-15)(187,2.2e-15)(188,2.5e-15)(189,2.2e-15)
(190,2.5e-15)(191,2.5e-15)(192,2.5e-15)(193,2.6e-15)(194,2.6e-15)(195,2.8e-15)(196,2.8e-15)(197,3.0e-15)(198,2.8e-15)(199,3.0e-15)
(200,3.3e-15)
};
% Boris Multistep (n=2)
\addplot[mk, color=cBMS, mark=mstarviii, mark size=4.3bp] coordinates {
(0.5,2.8e-16)(1,2.8e-16)(2,2.8e-16)(3,6.9e-16)(4,1.0e-15)(5,6.9e-16)(6,4.2e-16)(7,4.2e-16)(8,6.9e-16)(9,4.2e-16)
(10,6.9e-16)(11,6.9e-16)(12,1.17e-15)(13,6.9e-16)(14,1.48e-15)(15,1.48e-15)(16,1.48e-15)(17,1.48e-15)(18,1.58e-15)(19,2.1e-15)
(20,1.48e-15)(21,6.9e-16)(22,1.38e-15)(23,1.38e-15)(24,2.0e-15)(25,1.38e-15)(26,1.38e-15)(27,1.48e-15)(28,1.38e-15)(29,1.48e-15)
(30,2.0e-15)(31,6.9e-16)(32,1.38e-15)(33,6.9e-16)(34,6.9e-16)(35,1.38e-15)(36,1.48e-15)(37,1.38e-15)(38,4.2e-16)(39,2.8e-16)
(40,4.2e-16)(41,6.9e-16)(42,1.17e-15)(43,4.2e-16)(44,6.9e-16)(45,4.2e-16)(46,2.8e-16)(47,1.38e-15)(48,1.38e-15)(49,6.9e-16)
(50,2.8e-16)(51,8.5e-16)(52,2.8e-16)(53,8.5e-16)(54,1.0e-15)(55,1.48e-15)(56,1.0e-15)(57,1.17e-15)(58,1.48e-15)(59,1.0e-15)
(60,1.58e-15)(61,1.78e-15)(62,2.1e-15)(63,2.5e-15)(64,2.8e-15)(65,3.1e-15)(66,3.3e-15)(67,3.5e-15)(68,3.7e-15)(69,3.7e-15)
(70,3.9e-15)(71,4.1e-15)(72,3.9e-15)(73,4.1e-15)(74,4.3e-15)(75,4.1e-15)(76,4.1e-15)(77,3.9e-15)(78,3.7e-15)(79,3.5e-15)
(80,3.3e-15)(81,3.2e-15)(82,3.5e-15)(83,3.2e-15)(84,3.0e-15)(85,3.2e-15)(86,3.5e-15)(87,3.2e-15)(88,3.2e-15)(89,2.9e-15)
(90,3.2e-15)(91,3.5e-15)(92,3.2e-15)(93,3.2e-15)(94,3.0e-15)(95,3.2e-15)(96,3.2e-15)(97,3.5e-15)(98,3.2e-15)(99,3.0e-15)
(100,3.2e-15)(101,3.2e-15)(102,2.9e-15)(103,2.7e-15)(104,2.3e-15)(105,2.1e-15)(106,2.5e-15)(107,2.3e-15)(108,2.1e-15)(109,2.6e-15)
(110,2.3e-15)(111,2.1e-15)(112,2.5e-15)(113,2.3e-15)(114,2.6e-15)(115,2.1e-15)(116,2.3e-15)(117,2.5e-15)(118,2.6e-15)(119,3.0e-15)
(120,3.2e-15)(121,3.0e-15)(122,2.5e-15)(123,3.2e-15)(124,3.5e-15)(125,3.2e-15)(126,3.5e-15)(127,3.5e-15)(128,3.2e-15)(129,3.0e-15)
(130,2.8e-15)(131,2.5e-15)(132,1.78e-15)(133,1.2e-15)(134,8.5e-16)(135,1.2e-15)(136,8.5e-16)(137,6.9e-16)(138,8.5e-16)(139,2.8e-16)
(140,4.2e-16)(141,2.8e-16)(142,2.8e-16)(143,8.5e-16)(144,2.8e-16)(145,2.8e-16)(146,8.5e-16)(147,2.8e-16)(148,1.2e-15)(149,1.58e-15)
(150,2.0e-15)(151,2.0e-15)(152,1.8e-15)(153,2.0e-15)(154,2.2e-15)(155,2.0e-15)(156,1.8e-15)(157,2.0e-15)(158,2.5e-15)(159,2.8e-15)
(160,3.1e-15)(161,3.3e-15)(162,3.5e-15)(163,3.7e-15)(164,4.1e-15)(165,4.4e-15)(166,4.1e-15)(167,4.4e-15)(168,4.1e-15)(169,4.4e-15)
(170,4.1e-15)(171,3.9e-15)(172,4.1e-15)(173,3.9e-15)(174,4.1e-15)(175,4.4e-15)(176,4.1e-15)(177,3.9e-15)(178,3.9e-15)(179,4.1e-15)
(180,3.9e-15)(181,3.7e-15)(182,3.9e-15)(183,3.9e-15)(184,3.7e-15)(185,3.9e-15)(186,3.7e-15)(187,3.7e-15)(188,3.5e-15)(189,3.3e-15)
(190,3.0e-15)(191,2.7e-15)(192,2.5e-15)(193,2.7e-15)(194,3.0e-15)(195,3.5e-15)(196,3.9e-15)(197,3.7e-15)(198,3.9e-15)(199,3.7e-15)
(200,3.5e-15)
(1.5,6.9e-16)(2.5,6.9e-16)(3.5,1.0e-15)(4.5,6.9e-16)(5.5,6.9e-16)(8.5,6.9e-16)(9.5,6.9e-16)(10.5,4.2e-16)(11.5,4.2e-16)(12.5,4.2e-16)
(13.5,6.9e-16)(14.5,6.9e-16)(15.5,6.9e-16)(20.5,6.9e-16)(21.5,6.9e-16)(22.5,6.9e-16)(31.5,6.9e-16)(32.5,6.9e-16)(34.5,6.9e-16)(35.5,6.9e-16)
(38.5,2.8e-16)(39.5,4.2e-16)(40.5,6.9e-16)(41.5,1.17e-15)(42.5,6.9e-16)(43.5,6.9e-16)(44.5,6.9e-16)(45.5,6.9e-16)(46.5,1.38e-15)(47.5,2.8e-16)
(48.5,1.38e-15)(49.5,2.8e-16)(50.5,2.8e-16)(51.5,2.8e-16)(53.5,8.5e-16)
};
\legend{Tsit5, Vern7, Vern9, BS3, ImplicitMidpoint, Boris, Boris Multistep (n=2)}
\end{axis}
\node[font=\bfseries\lblfont, anchor=center, inner sep=0pt] at (763bp,355.5bp) {Solvers};
\end{tikzpicture}
\end{document}
